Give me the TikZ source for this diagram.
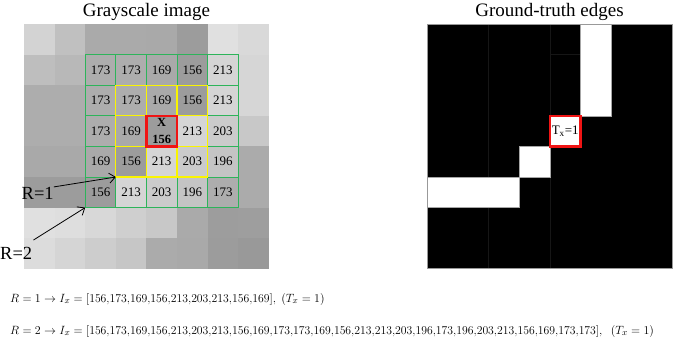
\documentclass[tikz,border=0pt]{standalone}
\usepackage{graphicx}
\usepackage{fontspec}
\setmainfont{Liberation Serif}
\usetikzlibrary{arrows.meta}
\definecolor{gridgreen}{RGB}{45,180,90}
\definecolor{gridyellow}{RGB}{250,245,0}
\definecolor{edgered}{RGB}{240,20,20}
\definecolor{faintline}{RGB}{22,22,22}
\newcommand{\numlist}[1]{\scalebox{0.98}[1]{$#1$}}
\def\centremark{C}
\tikzset{
  num/.style={font=\fontsize{13bp}{15bp}\selectfont, inner sep=0pt},
  ttl/.style={font=\fontsize{19bp}{22bp}\selectfont, inner sep=0pt},
  rlabel/.style={font=\fontsize{18.5bp}{22bp}\selectfont, inner sep=0pt, anchor=base west},
  grn/.style={draw=gridgreen, line width=1bp},
  ylw/.style={draw=gridyellow, line width=1.3bp},
  redbox/.style={draw=edgered, line width=2.2bp},
  pointer/.style={draw=black, line width=0.8bp, -{Straight Barb[length=6bp,width=10bp]}},
  formula/.style={font=\fontsize{12.6bp}{14bp}\selectfont, inner sep=0pt, anchor=base west},
}
\begin{document}
\begin{tikzpicture}[x=1bp,y=-1bp]
\useasboundingbox (0,0) rectangle (685,338);
% titles
\node[ttl] (t1) at (146.5,12) {Grayscale image};
\node[ttl] (t2) at (549.5,12) {Ground-truth edges};
% ---------- left grayscale image
\begin{scope}[shift={(24bp,-24bp)}, x=30.6bp, y=-30.6bp]
\foreach \row [count=\r from 0] in {
  {211,192,170,170,169,156,224,217},
  {190,184,173,173,169,156,213,214},
  {173,173,173,173,169,156,213,214},
  {173,173,173,169,156,213,203,200},
  {169,169,169,156,213,203,196,171},
  {156,156,156,213,203,196,173,171},
  {224,222,216,207,200,170,157,158},
  {220,213,205,198,171,169,156,153}}{
  \foreach \v [count=\c from 0] in \row {
    \fill[fill={rgb,255:red,\v;green,\v;blue,\v}] (\c,\r) rectangle ++(1,1);
  }
}
% numbers in the 5x5 window
\foreach \row [count=\r from 1] in {
  {173,173,169,156,213},
  {173,173,169,156,213},
  {173,169,C,213,203},
  {169,156,213,203,196},
  {156,213,203,196,173}}{
  \foreach \v [count=\c from 2] in \row {
    \ifx\v\centremark\else
      \node[num] (L-\r-\c) at (\c+0.5,\r+0.5) {\v};
    \fi
  }
}
% green 5x5 window
\draw[grn] (2,1) rectangle (7,6);
\foreach \k in {3,4,5,6}{ \draw[grn] (\k,1) -- (\k,6); }
\foreach \k in {2,3,4,5}{ \draw[grn] (2,\k) -- (7,\k); }
% yellow 3x3 window
\draw[ylw] (3,2) rectangle (6,5);
\foreach \k in {4,5}{ \draw[ylw] (\k,2) -- (\k,5); }
\foreach \k in {3,4}{ \draw[ylw] (3,\k) -- (6,\k); }
% centre pixel
\draw[redbox] (4,3) rectangle (5,4);
\node[num, font=\fontsize{12.5bp}{12bp}\selectfont\bfseries] (X) at (4.5,3.22) {X};
\node[num, font=\fontsize{12.5bp}{12bp}\selectfont\bfseries] (X156) at (4.5,3.77) {156};
\coordinate (c1) at (3,5);
\coordinate (c2) at (2,6);
\end{scope}
% R labels and arrows
\node[rlabel] (R1) at (21.5,199) {R=1};
\node[rlabel] (R2) at (0,259) {R=2};
\draw[pointer] (R1.east) ++(0,-6) -- (c1);
\draw[pointer] (33.5,240) -- (c2);
% ---------- right ground-truth image
\begin{scope}[shift={(427.5bp,-24bp)}, x=30.6bp, y=-30.6bp]
\fill[black] (0,0) rectangle (8,8);
\draw[faintline, line width=0.6bp] (2,0) -- (2,8);
\draw[faintline, line width=0.6bp] (4,0) -- (4,8);
\draw[faintline, line width=0.6bp] (4,1) -- (5,1);
\foreach \r/\c in {0/5,1/5,2/5,3/4,4/3,5/0,5/1,5/2}{
  \fill[white] (\c,\r) rectangle ++(1,1);
}
\draw[gray!70, line width=0.6bp] (5,0) -- (5,3) -- (6,3) -- (6,0);
\draw[gray!70, line width=0.6bp] (3,4) rectangle (4,5);
\draw[gray!70, line width=0.6bp] (0,5) -- (3,5) -- (3,6) -- (0,6);
\draw[gray!80, line width=0.8bp] (0,0) rectangle (8,8);
\draw[redbox] (4,3) rectangle (5,4);
\node[num] (Tx) at (4.5,3.5) {T\textsubscript{x}=1};
\end{scope}
% ---------- formulas
\node[formula] (f1) at (10,302) {$R = 1 \rightarrow I_x = [\numlist{156{,}173{,}169{,}156{,}213{,}203{,}213{,}156{,}169}],\ (T_x = 1)$};
\node[formula] (f2) at (10,334) {$R = 2 \rightarrow I_x = [\numlist{156{,}173{,}169{,}156{,}213{,}203{,}213{,}156{,}169{,}173{,}173{,}169{,}156{,}213{,}213{,}203{,}196{,}173{,}196{,}203{,}213{,}156{,}169{,}173{,}173}],\ \ (T_x = 1)$};
\end{tikzpicture}
\end{document}
